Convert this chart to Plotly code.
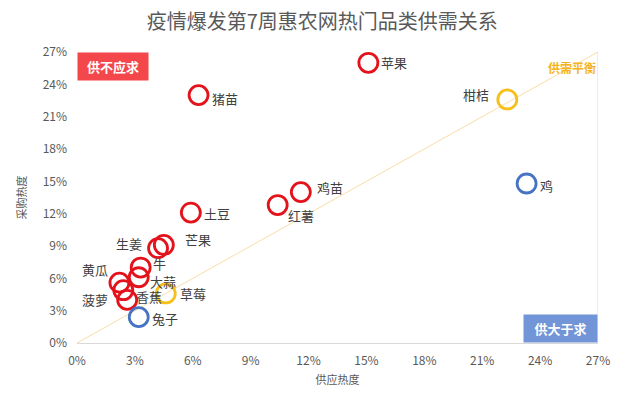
import plotly.graph_objects as go

# Data (percent)
names = ["苹果", "猪苗", "柑桔", "鸡", "鸡苗", "红薯", "土豆", "芒果", "生姜",
         "牛", "大蒜", "黄瓜", "菠萝", "香蕉", "草莓", "兔子"]
supply = [15.1, 6.3, 22.3, 23.3, 11.6, 10.4, 5.9, 4.5, 4.2,
          3.3, 3.2, 2.2, 2.4, 2.6, 4.6, 3.2]
demand = [26.0, 23.0, 22.6, 14.8, 14.0, 12.8, 12.1, 9.1, 8.8,
          7.0, 6.1, 5.6, 4.9, 4.0, 4.6, 2.4]
status = ["short", "short", "balance", "surplus", "short", "short", "short", "short", "short",
          "short", "short", "short", "short", "short", "balance", "surplus"]
tick_vals = [0, 3, 6, 9, 12, 15, 18, 21, 24, 27]
tick_text = [f"{v}%" for v in tick_vals]

# Styles
status_color = {"short": "#e3121b", "balance": "#f5c01a", "surplus": "#4673c2"}
label_shift = {  # (xshift, yshift) in px, label centre relative to marker
    "苹果": (26, 0), "猪苗": (26, -3), "柑桔": (-31, 5), "鸡": (20, -2),
    "鸡苗": (29, 5), "红薯": (23, -10), "土豆": (26, -1), "芒果": (34, 5),
    "生姜": (-29, 5), "牛": (19, 4), "大蒜": (24, -4), "黄瓜": (-24, 13),
    "菠萝": (-28, -9), "香蕉": (22, 3), "草莓": (27, 0), "兔子": (26, -1),
}

FONT = "Noto Sans CJK SC, Microsoft YaHei, sans-serif"

fig = go.Figure()

# balance line y = x
fig.add_trace(go.Scatter(
    x=[0, tick_vals[-1]], y=[0, tick_vals[-1]], mode="lines",
    line=dict(color="rgba(246,196,110,0.6)", width=1),
    hoverinfo="skip", showlegend=False,
))

fig.add_trace(go.Scatter(
    x=supply, y=demand, mode="markers",
    marker=dict(size=19, color="rgba(0,0,0,0)",
                line=dict(color=[status_color[s] for s in status], width=2.8)),
    hoverinfo="skip", showlegend=False, cliponaxis=False,
))

annotations = []
for n, x, y in zip(names, supply, demand):
    dx, dy = label_shift[n]
    annotations.append(dict(
        x=x, y=y, xref="x", yref="y", text=n, showarrow=False,
        xshift=dx, yshift=dy, font=dict(size=13, color="#404040", family=FONT),
    ))

annotations += [
    dict(xref="paper", yref="paper", x=0, y=1, xanchor="left", yanchor="top",
         text="<b>供不应求</b>", showarrow=False, bgcolor="#f4474b",
         width=68, height=25, font=dict(size=13, color="white", family=FONT)),
    dict(xref="paper", yref="paper", x=1, y=0, xanchor="right", yanchor="bottom",
         text="<b>供大于求</b>", showarrow=False, bgcolor="#7195d6",
         width=71, height=25, font=dict(size=13, color="white", family=FONT)),
    dict(xref="paper", yref="y", x=1, y=25.6, xanchor="right", yanchor="middle",
         text="<b>供需平衡</b>", showarrow=False,
         font=dict(size=12, color="#f5b41c", family=FONT)),
]

fig.update_layout(
    width=640, height=394,
    margin=dict(l=69, r=50, t=44, b=59),
    paper_bgcolor="white", plot_bgcolor="white",
    font=dict(family=FONT, color="#595959"),
    title=dict(text="疫情爆发第7周惠农网热门品类供需关系", x=0.491, xanchor="center",
               y=0.964, yanchor="middle", font=dict(size=20, color="#595959", family=FONT)),
    annotations=annotations,
    showlegend=False,
    shapes=[dict(type="line", xref="x", yref="y", x0=27, x1=27, y0=0, y1=27,
                 line=dict(color="#d9d9d9", width=1), layer="below")],
)

fig.update_xaxes(range=[0, 27], tickvals=tick_vals, ticktext=tick_text,
                 showgrid=False, zeroline=False, showline=True, linecolor="#d9d9d9",
                 ticks="", ticklabelstandoff=7, tickfont=dict(size=12, color="#595959"),
                 title=dict(text="供应热度", font=dict(size=11, color="#595959"), standoff=8))
fig.update_yaxes(range=[0, 27], tickvals=tick_vals, ticktext=tick_text,
                 showgrid=False, zeroline=False, showline=False,
                 ticks="", ticklabelstandoff=9, tickfont=dict(size=12, color="#595959"),
                 title=dict(text="采购热度", font=dict(size=11, color="#595959"), standoff=13))

fig.write_html("out.html")
